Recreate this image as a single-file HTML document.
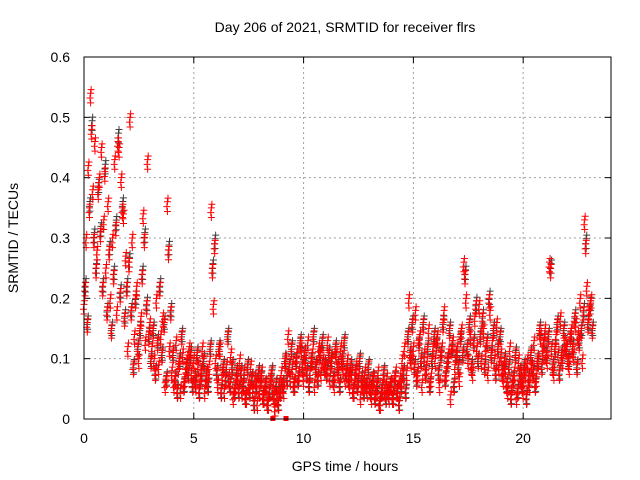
<!DOCTYPE html>
<html><head><meta charset="utf-8"><style>
body{margin:0;background:#fff}
svg{display:block;font-family:"Liberation Sans",sans-serif;font-size:14px}
</style></head><body>
<svg id="chart" width="640" height="480">
<text x="345" y="32" text-anchor="middle">Day 206 of 2021, SRMTID for receiver flrs</text>
<text transform="translate(18,238) rotate(-90)" text-anchor="middle">SRMTID / TECUs</text>
<text x="345" y="471" text-anchor="middle">GPS time / hours</text>
<g id="grid"></g><g id="ticks"></g><g id="marks"></g>
<rect x="84" y="57" width="527" height="362" fill="none" stroke="#000"/>
</svg>
<script>
const xTicks=[0,5,10,15,20];
const yTicks=[0,0.1,0.2,0.3,0.4,0.5,0.6];
const yTickLabels=["0","0.1","0.2","0.3","0.4","0.5","0.6"];
const seriesA=[.19,.30,.42,.54,.38,.46,.28,.40,.45,.33,
.25,.36,.20,.30,.43,.18,.45,.40,.34,.27,
.12,.50,.30,.14,.22,.10,.17,.34,.13,.43,
.16,.12,.10,.20,.09,.14,.17,.06,.36,.12,
.08,.06,.13,.09,.05,.11,.07,.10,.12,.08,
.10,.06,.09,.07,.12,.05,.08,.09,.35,.19,
.10,.06,.12,.08,.05,.09,.07,.11,.04,.06,
.07,.10,.05,.08,.04,.06,.09,.05,.07,.03,
.05,.08,.04,.06,.03,.07,.05,.02,.04,.06,
.08,.05,.10,.14,.07,.09,.06,.11,.08,.12,
.07,.10,.13,.08,.11,.06,.09,.12,.08,.10,
.09,.13,.07,.10,.06,.11,.08,.12,.09,.07,
.10,.06,.08,.05,.09,.07,.04,.06,.08,.05,
.06,.04,.07,.05,.08,.03,.06,.05,.07,.04,
.06,.04,.08,.05,.07,.10,.12,.08,.20,.10,
.12,.18,.08,.14,.06,.11,.09,.15,.07,.12,
.10,.14,.06,.12,.18,.08,.11,.04,.13,.09,
.12,.07,.15,.26,.20,.10,.14,.08,.17,.12,
.19,.10,.15,.12,.08,.18,.13,.10,.16,.09,
.11,.07,.09,.05,.12,.06,.08,.04,.10,.07,
.05,.08,.10,.06,.09,.13,.07,.10,.14,.12,
.15,.10,.26,.12,.08,.14,.11,.17,.10,.13,
.12,.09,.15,.11,.16,.14,.20,.10,.33,.22,
.18,.20];
const seriesB=[.22,.16,.35,.48,.30,.25,.38,.31,.22,.41,
.18,.28,.15,.24,.32,.46,.21,.35,.17,.22,
.26,.18,.09,.20,.12,.15,.24,.30,.19,.14,
.10,.15,.08,.13,.22,.11,.16,.07,.28,.18,
.11,.07,.05,.10,.14,.06,.09,.08,.11,.06,
.07,.11,.05,.08,.10,.07,.06,.12,.25,.29,
.08,.12,.05,.09,.07,.14,.06,.09,.05,.08,
.05,.08,.06,.04,.09,.05,.07,.03,.06,.08,
.07,.04,.06,.03,.05,.08,.04,.06,.03,.05,
.06,.10,.07,.09,.12,.06,.10,.07,.13,.09,
.11,.08,.06,.10,.14,.09,.07,.11,.13,.09,
.08,.11,.10,.07,.12,.09,.06,.10,.13,.08,
.07,.09,.05,.08,.06,.10,.07,.05,.06,.09,
.05,.07,.04,.06,.03,.05,.08,.04,.05,.06,
.04,.07,.05,.03,.06,.08,.05,.14,.11,.16,
.09,.07,.13,.10,.16,.08,.12,.06,.10,.14,
.13,.08,.11,.16,.07,.10,.15,.12,.06,.11,
.09,.14,.11,.24,.12,.16,.09,.13,.19,.10,
.14,.17,.09,.13,.20,.11,.15,.08,.12,.14,
.08,.10,.06,.09,.04,.07,.11,.05,.08,.06,
.09,.04,.07,.11,.08,.06,.10,.15,.09,.13,
.11,.14,.25,.09,.12,.16,.08,.11,.15,.12,
.10,.14,.12,.17,.09,.13,.15,.18,.29,.16,
.19,.15];
const timesA=seriesA.map((v,i)=>i*0.1);
const timesB=seriesB.map((v,i)=>i*0.1+0.05);
const gapTimes=[8.6,9.2];
const NS="http://www.w3.org/2000/svg";
const X=t=>84+t*(527/24), Y=v=>419-v*(362/0.6);
const grid=document.getElementById('grid'),ticks=document.getElementById('ticks'),marks=document.getElementById('marks');
function mk(tag,attrs,parent){const e=document.createElementNS(NS,tag);for(const k in attrs)e.setAttribute(k,attrs[k]);parent.appendChild(e);return e;}
xTicks.forEach(t=>{
 const x=X(t);
 if(t>0){const g=mk('line',{x1:x,x2:x,y1:57,y2:419,stroke:'#a0a0a0','stroke-dasharray':'2,3'},grid);
 
 }
 const l=mk('text',{x:x,y:443,'text-anchor':'middle'},ticks);l.textContent=t;
 
 
 mk('line',{x1:x,x2:x,y1:419,y2:413,stroke:'#000'},ticks);
 mk('line',{x1:x,x2:x,y1:57,y2:63,stroke:'#000'},ticks);
});
yTicks.forEach((v,i)=>{
 const y=Y(v);
 if(v>0&&v<0.6){const g=mk('line',{x1:84,x2:611,y1:y,y2:y,stroke:'#a0a0a0','stroke-dasharray':'2,3'},grid);
 
 }
 const l=mk('text',{x:70,y:y+5,'text-anchor':'end'},ticks);l.textContent=yTickLabels[i];
 
 
 mk('line',{x1:84,x2:90,y1:y,y2:y,stroke:'#000'},ticks);
 mk('line',{x1:611,x2:605,y1:y,y2:y,stroke:'#000'},ticks);
});
// each sample drawn as a small cluster of "+" glyphs (overlapping satellite arcs)
function plus(t,v,color){
 let d='';
 [[0,0],[-0.025,-0.008],[0.025,0.006],[0,-0.016]].forEach(o=>{
  const x=X(t+o[0]),y=Y(Math.max(0.005,v+o[1]));
  d+=`M${x-3.5},${y}h7M${x},${y-3.5}v7`;
 });
 const p=mk('path',{d:d,stroke:color,'stroke-width':1},marks);
 
 
}
seriesB.forEach((v,i)=>plus(timesB[i]+0.02,v*1.03,'#404040'));
seriesA.forEach((v,i)=>plus(timesA[i],v,'#ff0000'));
seriesB.forEach((v,i)=>plus(timesB[i],v,'#ff0000'));
gapTimes.forEach(t=>{
 const r=mk('rect',{x:X(t)-2.5,y:416,width:5,height:5,fill:'#ff0000'},marks);
 
 
});
</script>
</body></html>
